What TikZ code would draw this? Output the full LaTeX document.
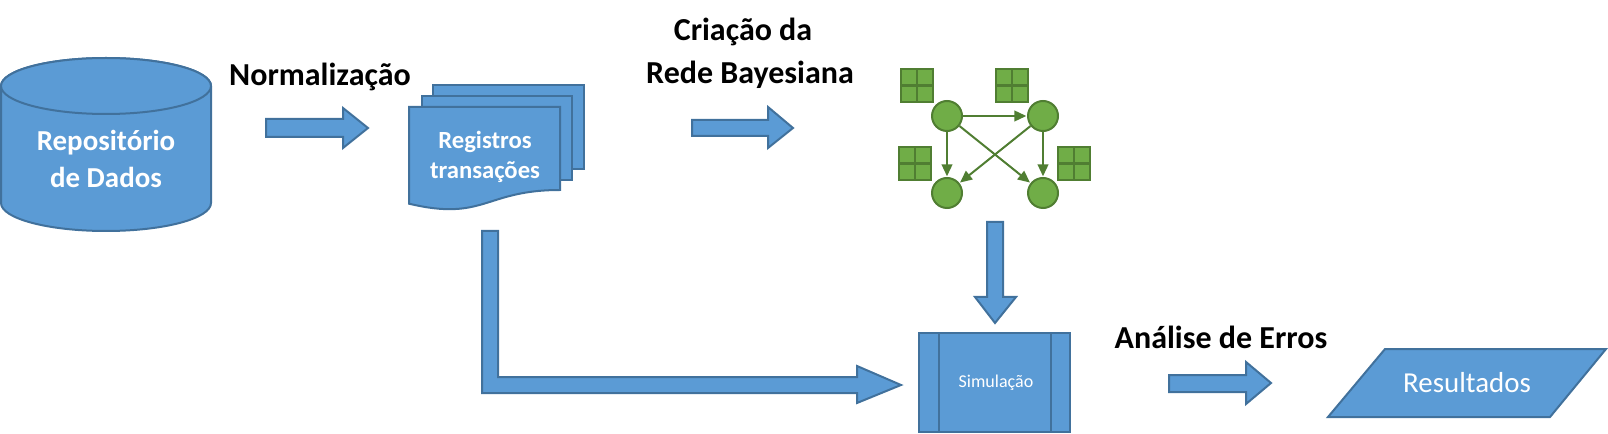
\documentclass[tikz,border=0pt]{standalone}
\usepackage{fontspec}
\setmainfont{Carlito}
\usetikzlibrary{arrows.meta}
\definecolor{bfill}{HTML}{5B9BD5}
\definecolor{bline}{HTML}{41719C}
\definecolor{gfill}{HTML}{70AD47}
\definecolor{gline}{HTML}{507E32}
\tikzset{
  bshape/.style={fill=bfill,draw=bline,line width=1.5pt,line join=miter},
  gnode/.style={circle,fill=gfill,draw=gline,line width=1.5pt,minimum size=30*0.75pt,inner sep=0pt},
  gtab/.style={fill=gfill,draw=gline,line width=1.8pt},
  garrow/.style={draw=gline,line width=1.5pt,-{Triangle[length=9pt,width=8pt]},shorten >=0.5pt},
  lbl/.style={font=\bfseries\fontsize{24}{28}\selectfont,text=black,inner sep=0pt},
  wlbl/.style={font=\bfseries\fontsize{21.7}{26}\selectfont,text=white,inner sep=0pt},
  dlbl/.style={font=\bfseries\fontsize{18.5}{22}\selectfont,text=white,inner sep=0pt},
}
\begin{document}
\begin{tikzpicture}[x=0.75pt,y=-0.75pt]
\useasboundingbox (0,0) rectangle (1608,434);
% cylinder
\draw[bshape] (1,86) -- (1,203) arc[start angle=180,end angle=0,x radius=105,y radius=28] -- (211,86) arc[start angle=0,end angle=-180,x radius=105,y radius=28] -- cycle;
\draw[bshape] (106,86) ellipse[x radius=105,y radius=28];
\node[wlbl] (repo1) at (106,143) {Repositório};
\node[wlbl] (repo2) at (106,177) {de Dados};
% label normalizacao
\node[lbl] (norm) at (320,77) {Normalização};
% arrow 1
\draw[bshape] (266,119) -- (343,119) -- (343,108) -- (368,128) -- (343,148) -- (343,137) -- (266,137) -- cycle;
% documents
\draw[bshape] (433,85) rectangle (584,169);
\draw[bshape] (422,96) rectangle (572,180);
\draw[bshape] (409,107) -- (560,107) -- (560,190) .. controls (484.5,190) and (484.5,221.6) .. (409,203.7) -- cycle;
\node[dlbl] (docs1) at (485,142) {Registros};
\node[dlbl] (docs2) at (485,172) {transações};
% arrow 2
\draw[bshape] (692,120) -- (768,120) -- (768,107) -- (793,128) -- (768,148) -- (768,136) -- (692,136) -- cycle;
\node[lbl] (cria1) at (743,32) {Criação da};
\node[lbl] (cria2) at (750,75) {Rede Bayesiana};
% bayes net tables
\foreach \x/\y in {901/69, 996/69, 899/147, 1058/147}{
  \draw[gtab] (\x,\y) rectangle ++(32,33);
  \draw[gline,line width=1.8pt] (\x+16,\y) -- (\x+16,\y+33) (\x,\y+16.5) -- (\x+32,\y+16.5);
}
\node[gnode] (n1) at (947,116) {};
\node[gnode] (n2) at (1043,116) {};
\node[gnode] (n3) at (947,193) {};
\node[gnode] (n4) at (1043,193) {};
\draw[garrow] (n1) -- (n2);
\draw[garrow] (n1) -- (n3);
\draw[garrow] (n1) -- (n4);
\draw[garrow] (n2) -- (n3);
\draw[garrow] (n2) -- (n4);
% down arrow
\draw[bshape] (987,222) -- (1003,222) -- (1003,297) -- (1016,297) -- (995,323) -- (975,297) -- (987,297) -- cycle;
% L arrow
\draw[bshape] (482,231) -- (498,231) -- (498,377) -- (857,377) -- (857,366) -- (901,385) -- (857,403) -- (857,393) -- (482,393) -- cycle;
% simulacao box
\draw[bshape] (919,333) rectangle (1070,432);
\draw[bline,line width=1.5pt] (939,333) -- (939,432) (1051,333) -- (1051,432);
\node[font=\fontsize{13.5}{16}\selectfont,text=white,inner sep=0pt] (sim) at (996,383) {Simulação};
% analise label
\node[lbl] (anal) at (1221,337) {Análise de Erros};
% arrow 3
\draw[bshape] (1169,375) -- (1246,375) -- (1246,362) -- (1271,383) -- (1246,404) -- (1246,392) -- (1169,392) -- cycle;
% parallelogram
\draw[bshape] (1328,417) -- (1385,349) -- (1606,349) -- (1550,417) -- cycle;
\node[font=\fontsize{21.7}{26}\selectfont,text=white,inner sep=0pt] (res) at (1467,383) {Resultados};
\end{tikzpicture}
\end{document}
